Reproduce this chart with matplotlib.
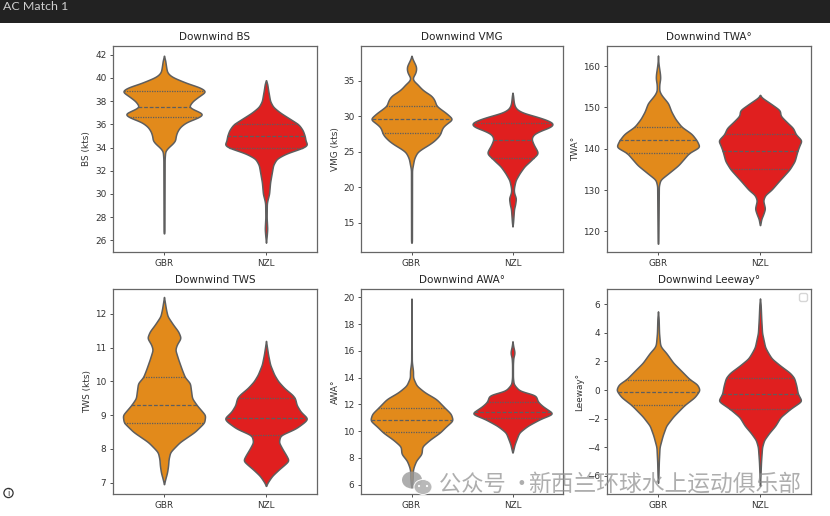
import numpy as np
import matplotlib
matplotlib.use('Agg')
import matplotlib.pyplot as plt
from matplotlib.patches import Ellipse, Circle, Rectangle

W, H = 830, 516
ORANGE = '#E28A1B'
RED = '#E01F1F'
EDGE = '#5e5e5e'
TEAMS = ['GBR', 'NZL']

# outlines: y value, half width of the violin in x units
bs_gbr_y = [41.9, 41.5, 41, 40.5, 40.2, 40, 39.5, 39.2, 38.85, 38.4, 38, 37.5, 37.2, 36.9, 36.6, 36.2, 35.8, 35.4, 35, 34.6, 34.3, 34, 33.7, 33, 26.6]
bs_gbr_w = [0, .012, .02, .03, .06, .10, .24, .35, .415, .34, .28, .24, .31, .39, .34, .22, .16, .13, .115, .11, .08, .04, .012, .006, .004]
bs_nzl_y = [39.8, 39.5, 39, 38.5, 38, 37.5, 37, 36.5, 36, 35.5, 35, 34.5, 34.25, 34, 33.5, 33.05, 32.5, 32, 31.5, 31, 30.5, 30, 29.5, 29.2, 28, 27, 26.5, 25.8]
bs_nzl_w = [0, .012, .02, .03, .04, .07, .14, .23, .32, .36, .38, .39, .41, .37, .20, .105, .07, .06, .05, .04, .035, .03, .015, .008, .006, .012, .008, 0]
vmg_gbr_y = [38.5, 38, 37.5, 37, 36.5, 36, 35.5, 35.2, 35, 34.5, 34, 33.5, 33, 32.5, 32, 31.5, 31, 30.5, 30, 29.6, 29, 28.5, 28, 27.7, 27.2, 26.5, 26, 25.5, 25, 24.5, 24, 23, 22.5, 12.2]
vmg_gbr_w = [0, .012, .03, .046, .046, .035, .012, .012, .02, .06, .09, .13, .19, .22, .235, .245, .29, .34, .38, .41, .35, .31, .295, .29, .27, .22, .17, .11, .06, .04, .025, .012, .005, .004]
vmg_nzl_y = [33.3, 33, 32, 31.5, 31, 30.5, 30, 29.5, 29, 28.5, 28, 27.5, 27, 26.7, 26, 25, 24.7, 24.2, 23.5, 23, 22, 21, 20, 19.5, 19, 18.5, 18, 17.5, 17, 16, 15, 14.5]
vmg_nzl_w = [0, .005, .012, .02, .04, .1, .23, .34, .41, .38, .28, .21, .19, .19, .21, .25, .25, .21, .16, .12, .07, .03, .015, .012, .02, .035, .03, .025, .015, .01, .005, 0]
twa_gbr_y = [162.5, 161, 160, 158, 157, 155.5, 154, 153, 151, 149, 147.2, 145.3, 143.6, 142, 140.4, 139, 136, 134, 132.5, 131, 117]
twa_gbr_w = [0, .003, .008, .02, .022, .012, .012, .033, .1, .13, .17, .23, .33, .38, .41, .305, .2, .1, .023, .008, .003]
twa_nzl_y = [153, 152.5, 152, 151, 149.3, 148, 146.5, 145, 143.5, 142, 141, 139.5, 137, 135, 132, 130, 128.8, 127.5, 125.5, 124, 123, 122, 121.5]
twa_nzl_w = [0, .01, .04, .1, .197, .2, .26, .325, .35, .41, .39, .367, .34, .29, .18, .11, .05, .03, .05, .03, .012, .006, 0]
tws_gbr_y = [12.5, 12.13, 11.93, 11.68, 11.48, 11.29, 11.09, 10.94, 10.65, 10.35, 10.12, 9.95, 9.5, 9.3, 9, 8.78, 8.5, 8.2, 8, 7.9, 7.7, 7.5, 7.3, 7.1, 6.95]
tws_gbr_w = [0, .02, .035, .09, .14, .165, .125, .11, .14, .175, .205, .255, .275, .32, .405, .395, .30, .155, .09, .06, .045, .04, .03, .012, 0]
tws_nzl_y = [11.2, 11, 10.8, 10.5, 10.2, 10, 9.8, 9.6, 9.5, 9.3, 9.1, 8.9, 8.8, 8.6, 8.4, 8.2, 8, 7.8, 7.65, 7.5, 7.4, 7.2, 7, 6.9]
tws_nzl_w = [0, .01, .02, .04, .08, .12, .18, .26, .285, .3, .34, .41, .38, .29, .14, .125, .16, .2, .225, .17, .13, .06, .015, 0]
awa_gbr_y = [19.9, 15.2, 15, 14.5, 14, 13.4, 12.9, 12.4, 11.7, 11.3, 10.8, 10.3, 9.9, 9.35, 8.85, 8.3, 7.8, 7.3, 7, 6.5, 6, 5.8]
awa_gbr_w = [0, .003, .006, .015, .015, .05, .13, .245, .335, .39, .41, .335, .283, .18, .105, .1, .046, .02, .012, .012, .006, 0]
awa_nzl_y = [16.7, 16.3, 16, 15.8, 15.5, 15, 14, 13.5, 13, 12.7, 12.2, 11.85, 11.3, 10.95, 10.4, 9.9, 9.5, 9, 8.5, 8.4]
awa_nzl_w = [0, .008, .018, .02, .008, .004, .004, .012, .07, .23, .25, .3, .41, .285, .15, .066, .045, .02, .005, 0]
lee_gbr_y = [5.5, 5, 4, 3.2, 3, 2.6, 1.9, 1.33, .75, .4, 0, -.5, -1.05, -1.85, -2.5, -3.2, -4, -5, -6, -6.5]
lee_gbr_w = [0, .006, .01, .02, .03, .08, .15, .23, .31, .385, .41, .36, .26, .15, .08, .045, .015, .008, .004, 0]
lee_nzl_y = [6.4, 6, 5, 4, 3, 2.6, 2.2, 1.7, 1.2, .85, .28, -.25, -.77, -1.3, -1.9, -2.5, -3, -3.5, -4, -5, -6, -6.7]
lee_nzl_w = [0, .006, .012, .02, .05, .08, .115, .2, .295, .335, .357, .37, .41, .30, .2, .15, .09, .04, .02, .01, .004, 0]

# quartiles per violin: upper, median, lower
bs_q = [[38.85, 37.5, 36.6], [36.0, 35.0, 34.0]]
vmg_q = [[31.5, 29.6, 27.7], [29.0, 26.7, 24.2]]
twa_q = [[145.3, 142.0, 139.0], [143.5, 139.5, 135.0]]
tws_q = [[10.12, 9.3, 8.78], [9.5, 8.92, 8.4]]
awa_q = [[11.7, 10.8, 9.9], [12.2, 11.45, 10.95]]
lee_q = [[0.7, -0.12, -1.05], [0.85, -0.28, -1.3]]

titles = ['Downwind BS', 'Downwind VMG', 'Downwind TWA°', 'Downwind TWS', 'Downwind AWA°', 'Downwind Leeway°']
ylabels = ['BS (kts)', 'VMG (kts)', 'TWA°', 'TWS (kts)', 'AWA°', 'Leeway°']
ylims = [(25.0, 42.75), (10.9, 39.9), (115, 164.85), (6.66, 12.74), (5.3, 20.62), (-7.28, 7.07)]
yticks = [range(26, 43, 2), range(15, 36, 5), range(120, 161, 10), range(7, 13), range(6, 21, 2), range(-6, 7, 2)]
boxes = [(113, 317, 46, 252), (361, 563, 46, 252), (607, 811, 46, 252),
         (113, 317, 289, 494), (361, 563, 289, 494), (607, 811, 289, 494)]
outlines = [
    ((bs_gbr_y, bs_gbr_w), (bs_nzl_y, bs_nzl_w)),
    ((vmg_gbr_y, vmg_gbr_w), (vmg_nzl_y, vmg_nzl_w)),
    ((twa_gbr_y, twa_gbr_w), (twa_nzl_y, twa_nzl_w)),
    ((tws_gbr_y, tws_gbr_w), (tws_nzl_y, tws_nzl_w)),
    ((awa_gbr_y, awa_gbr_w), (awa_nzl_y, awa_nzl_w)),
    ((lee_gbr_y, lee_gbr_w), (lee_nzl_y, lee_nzl_w)),
]
quarts = [bs_q, vmg_q, twa_q, tws_q, awa_q, lee_q]


def rounded(y, w, px_per_unit, sigma_px=1.5):
    # round off the read points so the outline does not look like a polygon
    step = 0.25 / px_per_unit
    fine = np.arange(min(y), max(y) + step, step)
    vals = np.interp(fine, y[::-1], w[::-1])
    n = int(4 * sigma_px / 0.25)
    kernel = np.exp(-0.5 * (np.arange(-n, n + 1) * 0.25 / sigma_px) ** 2)
    kernel /= kernel.sum()
    pad = np.pad(vals, n, mode='constant', constant_values=0)
    smooth = np.convolve(pad, kernel, mode='valid')
    smooth[0] = smooth[-1] = 0
    return fine, smooth


def draw_violin(ax, pos, y, w, q, color, px_per_unit):
    fine, half_w = rounded(np.array(y, dtype=float), np.array(w, dtype=float), px_per_unit)
    ax.fill_betweenx(fine, pos - half_w, pos + half_w, facecolor=color, edgecolor=EDGE, linewidth=1.1, joinstyle='round')
    # dashes for the median, dots for the outer quartiles
    for val, style in zip(q, [(0, (1, 1)), (0, (3, 1.5)), (0, (1, 1))]):
        half = np.interp(val, fine, half_w)
        ax.plot([pos - half, pos + half], [val, val], color=EDGE, linewidth=0.9, linestyle=style)


fig = plt.figure(figsize=(W / 100, H / 100), dpi=100, facecolor='white')

for i in range(6):
    left, right, top, bottom = boxes[i]
    ax = fig.add_axes([left / W, 1 - bottom / H, (right - left) / W, (bottom - top) / H])
    px_per_unit = (bottom - top) / (ylims[i][1] - ylims[i][0])
    for k in range(2):
        y, w = outlines[i][k]
        draw_violin(ax, k, y, w, quarts[i][k], [ORANGE, RED][k], px_per_unit)
    ax.set_xlim(-0.5, 1.5)
    ax.set_ylim(*ylims[i])
    ax.set_xticks([0, 1], TEAMS)
    ax.set_yticks(list(yticks[i]))
    ax.tick_params(labelsize=6.4, length=2.4, width=0.6, pad=2.4, colors='#333333')
    ax.set_title(titles[i], fontsize=7.5, pad=4, color='#222222')
    ax.set_ylabel(ylabels[i], fontsize=6.4, labelpad=2.5, color='#333333')
    for spine in ax.spines.values():
        spine.set_edgecolor('#666666')
        spine.set_linewidth(0.9)
    if i == 5:
        # empty legend box left in the source chart
        ax.legend(handles=[], loc='upper right', fontsize=6.4)

# page chrome and watermark, in pixel coordinates
over = fig.add_axes([0, 0, 1, 1], zorder=10)
over.set_xlim(0, W)
over.set_ylim(H, 0)
over.axis('off')
over.add_patch(Rectangle((0, 0), W, 23, facecolor='#222222', edgecolor='none'))
over.text(3, 7, 'AC Match 1', family='Lato', fontsize=8.9, color='#cfcfcf', va='center', ha='left')
over.add_patch(Circle((8.5, 493), 4.6, facecolor='white', edgecolor='#333333', linewidth=0.9))
over.text(8.5, 493.2, 'i', fontsize=6, color='#333333', ha='center', va='center')
over.add_patch(Ellipse((412, 480), 20, 17, facecolor='#9a9a9a', edgecolor='none', alpha=0.8))
over.add_patch(Ellipse((423, 487), 18, 15, facecolor='#b5b5b5', edgecolor='white', linewidth=0.7, alpha=0.95))
over.add_patch(Circle((419, 486), 1.1, facecolor='white', edgecolor='none'))
over.add_patch(Circle((427, 486), 1.1, facecolor='white', edgecolor='none'))
mark_font = ['Noto Sans CJK SC', 'DejaVu Sans']
over.text(439, 484, '公众号 ·', family=mark_font, fontsize=16.0, color='#8c8c8c', alpha=0.7, ha='left', va='center')
over.text(528, 484, '新西兰环球水上运动俱乐部', family=mark_font, fontsize=16.4, color='#8c8c8c', alpha=0.7, ha='left', va='center')

fig.savefig('out.png', dpi=100)
